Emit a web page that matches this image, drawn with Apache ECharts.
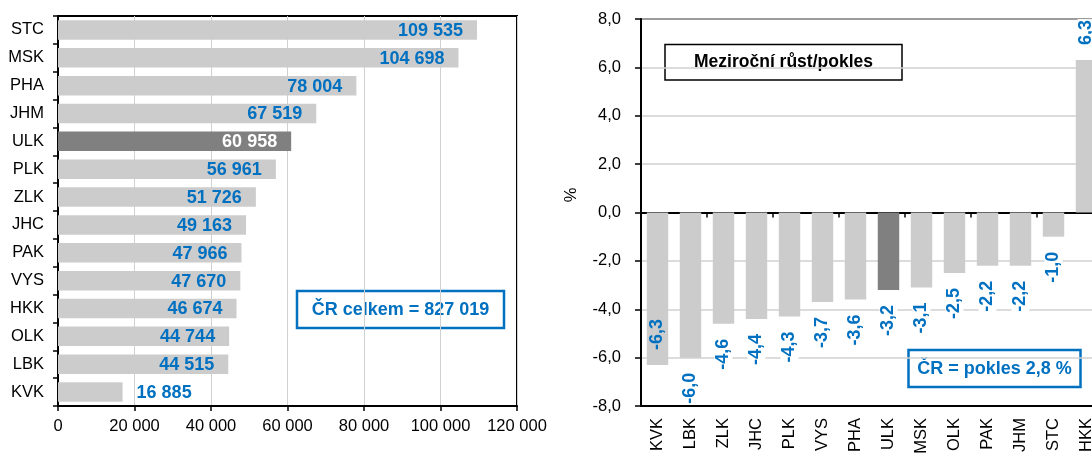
<!DOCTYPE html>
<html>
<head>
<meta charset="utf-8">
<script src="https://cdn.jsdelivr.net/npm/echarts@6/dist/echarts.min.js"></script>
<style>
  html, body { margin: 0; padding: 0; background: #fff; }
  #main { width: 1092px; height: 453px; }
</style>
</head>
<body>
<div id="main"></div>
<script>
// levy graf - pocty podle kraju
var regions = ['STC', 'MSK', 'PHA', 'JHM', 'ULK', 'PLK', 'ZLK', 'JHC', 'PAK', 'VYS', 'HKK', 'OLK', 'LBK', 'KVK'];
var counts = [109535, 104698, 78004, 67519, 60958, 56961, 51726, 49163, 47966, 47670, 46674, 44744, 44515, 16885];
var countTicks = [0, 20000, 40000, 60000, 80000, 100000, 120000];

// pravy graf - mezirocni zmena v %
var changeRegions = ['KVK', 'LBK', 'ZLK', 'JHC', 'PLK', 'VYS', 'PHA', 'ULK', 'MSK', 'OLK', 'PAK', 'JHM', 'STC', 'HKK'];
var changes = [-6.3, -6.0, -4.6, -4.4, -4.3, -3.7, -3.6, -3.2, -3.1, -2.5, -2.2, -2.2, -1.0, 6.3];
var changeTicks = [-8, -6, -4, -2, 0, 2, 4, 6, 8];

var highlight = 'ULK';
var FONT = 'Liberation Sans, Arial, sans-serif';
var BLUE = '#0070C0';

function fmtThousands(v) {
  return String(v).replace(/\B(?=(\d{3})+(?!\d))/g, ' ');
}
function fmtComma(v) {
  return Number(v).toFixed(1).replace('.', ',');
}

var chart = echarts.init(document.getElementById('main'), null, { renderer: 'canvas' });

var leftData = counts.map(function (v, i) {
  var isHi = regions[i] === highlight;
  var item = {
    value: v,
    itemStyle: { color: isHi ? '#808080' : '#cccccc' },
    label: { color: isHi ? '#ffffff' : BLUE }
  };
  if (regions[i] === 'KVK') {
    item.label.position = 'right';
  }
  return item;
});

var rightData = changes.map(function (v, i) {
  var isHi = changeRegions[i] === highlight;
  var item = { value: v, itemStyle: { color: isHi ? '#808080' : '#cccccc' }, label: {} };
  if (v > 0) {
    item.label.position = 'top';
    item.label.align = 'left';
  } else if (v <= -6.2) {
    // nevejde se pod sloupec
    item.label.position = 'insideBottom';
    item.label.align = 'left';
    item.label.backgroundColor = 'transparent';
  } else {
    item.label.position = 'bottom';
    item.label.align = 'right';
  }
  return item;
});

var option = {
  animation: false,
  textStyle: { fontFamily: FONT },
  grid: [
    { left: 58, top: 16, width: 459, height: 390, show: true, borderColor: '#000', borderWidth: 2, containLabel: false, outerBoundsMode: 'none' },
    { left: 641, top: 19, width: 462, height: 387, show: true, borderColor: '#000', borderWidth: 2, containLabel: false, outerBoundsMode: 'none' }
  ],
  xAxis: [
    {
      gridIndex: 0,
      type: 'value',
      min: countTicks[0],
      max: countTicks[countTicks.length - 1],
      interval: countTicks[1] - countTicks[0],
      axisLine: { show: true, lineStyle: { color: '#000', width: 2 } },
      axisTick: { show: true, length: 5, lineStyle: { color: '#000', width: 1.5 } },
      axisLabel: { color: '#000', fontSize: 16.5, margin: 12, formatter: fmtThousands, fontFamily: FONT },
      splitLine: { show: true, lineStyle: { color: '#d0d0d0', width: 1 } }
    },
    {
      gridIndex: 1,
      type: 'category',
      position: 'bottom',
      data: changeRegions,
      axisLine: { show: true, onZero: false, lineStyle: { color: '#000', width: 2 } },
      axisTick: { show: false },
      axisLabel: { color: '#000', fontSize: 16.5, rotate: 90, margin: 12, interval: 0, fontFamily: FONT },
      splitLine: { show: false }
    },
    {
      // nulova osa
      gridIndex: 1,
      type: 'category',
      position: 'bottom',
      data: changeRegions,
      axisLine: { show: true, onZero: true, lineStyle: { color: '#000', width: 2 } },
      axisTick: { show: true, length: 5, alignWithLabel: false, lineStyle: { color: '#000', width: 1.5 } },
      axisLabel: { show: false },
      splitLine: { show: false }
    }
  ],
  yAxis: [
    {
      gridIndex: 0,
      type: 'category',
      inverse: true,
      data: regions,
      axisLine: { show: true, lineStyle: { color: '#000', width: 2 } },
      axisTick: { show: true, length: 5, lineStyle: { color: '#000', width: 1.5 } },
      axisLabel: { color: '#000', fontSize: 16.5, margin: 14, fontFamily: FONT },
      splitLine: { show: false }
    },
    {
      gridIndex: 1,
      type: 'value',
      min: changeTicks[0],
      max: changeTicks[changeTicks.length - 1],
      interval: changeTicks[1] - changeTicks[0],
      axisLine: { show: true, lineStyle: { color: '#000', width: 2 } },
      axisTick: { show: true, length: 6, lineStyle: { color: '#000', width: 1.5 } },
      axisLabel: { color: '#000', fontSize: 16.5, margin: 20, formatter: fmtComma, fontFamily: FONT },
      splitLine: { show: true, lineStyle: { color: '#d0d0d0', width: 1.5 } }
    }
  ],
  series: [
    {
      type: 'bar',
      xAxisIndex: 0,
      yAxisIndex: 0,
      data: leftData,
      barCategoryGap: '30%',
      label: {
        show: true,
        position: 'insideRight',
        distance: 14,
        fontSize: 18,
        fontWeight: 'bold',
        fontFamily: FONT,
        offset: [0, 1],
        formatter: function (p) { return fmtThousands(p.value); }
      }
    },
    {
      type: 'bar',
      xAxisIndex: 1,
      yAxisIndex: 1,
      data: rightData,
      barCategoryGap: '35%',
      label: {
        show: true,
        rotate: 90,
        distance: 14,
        verticalAlign: 'middle',
        color: BLUE,
        fontSize: 18,
        fontWeight: 'bold',
        fontFamily: FONT,
        backgroundColor: '#fff',
        padding: [0, 1],
        formatter: function (p) { return fmtComma(p.value); }
      }
    }
  ],
  graphic: [
    {
      type: 'group',
      children: [
        { type: 'rect', shape: { x: 297, y: 291, width: 207, height: 37 }, style: { fill: '#fff', stroke: BLUE, lineWidth: 2.5 } },
        { type: 'text', x: 400.5, y: 310, style: { text: 'ČR celkem = 827 019', fill: BLUE, font: 'bold 18px ' + FONT, textAlign: 'center', textVerticalAlign: 'middle' } }
      ]
    },
    {
      type: 'group',
      children: [
        { type: 'rect', shape: { x: 665, y: 44.5, width: 237, height: 35.5 }, style: { fill: '#fff', stroke: '#000', lineWidth: 1.5 } },
        { type: 'text', x: 783.5, y: 62.5, style: { text: 'Meziroční růst/pokles', fill: '#000', font: 'bold 17.5px ' + FONT, textAlign: 'center', textVerticalAlign: 'middle' } }
      ]
    },
    {
      type: 'group',
      children: [
        { type: 'rect', shape: { x: 908.5, y: 350, width: 172, height: 37 }, style: { fill: '#fff', stroke: BLUE, lineWidth: 2.5 } },
        { type: 'text', x: 994.5, y: 369, style: { text: 'ČR = pokles 2,8 %', fill: BLUE, font: 'bold 18px ' + FONT, textAlign: 'center', textVerticalAlign: 'middle' } }
      ]
    },
    {
      type: 'text',
      x: 571,
      y: 195,
      rotation: Math.PI / 2,
      style: { text: '%', fill: '#000', font: '16.5px ' + FONT, textAlign: 'center', textVerticalAlign: 'middle' }
    }
  ]
};

chart.setOption(option);
</script>
</body>
</html>
